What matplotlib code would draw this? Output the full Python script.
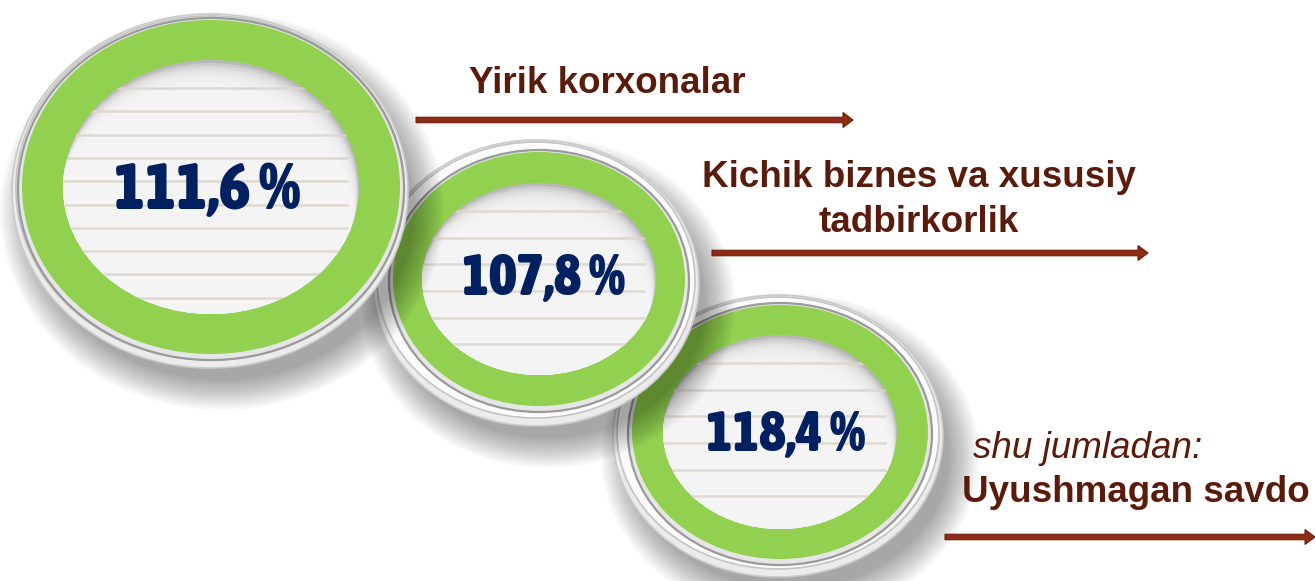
import numpy as np
import matplotlib
matplotlib.use("Agg")
import matplotlib.pyplot as plt
import matplotlib.font_manager as fm
from matplotlib.patches import Ellipse

# ---------------- data ----------------
values = [111.6, 107.8, 118.4]
categories = ["Yirik korxonalar", "Kichik biznes va xususiy\ntadbirkorlik", "Uyushmagan savdo"]
subtitle = "shu jumladan:"
value_labels = [f"{v:.1f}".replace(".", ",") + " %" for v in values]

# ---------------- find a condensed bold font (with the needed glyphs) ----------------
def _narrow_score(f):
    st = f.stretch
    if isinstance(st, str):
        st = {"ultra-condensed": 100, "extra-condensed": 200, "condensed": 300,
              "semi-condensed": 400, "normal": 500}.get(st, 500)
    if "Narrow" in f.name or "Condensed" in f.name:
        st = min(st, 350)
    return st

def _has_glyphs(fname, chars="0123456789,%"):
    try:
        ft = fm.get_font(fname)
        return all(ft.get_char_index(ord(c)) != 0 for c in chars)
    except Exception:
        return False

cands = []
for f in fm.fontManager.ttflist:
    sc = _narrow_score(f)
    w = f.weight if isinstance(f.weight, int) else {"bold": 700, "normal": 400}.get(f.weight, 400)
    if sc < 500 and w >= 600 and f.style == "normal" and _has_glyphs(f.fname):
        cands.append((sc, -w, f.fname))
cands.sort()
NARROW = fm.FontProperties(fname=cands[0][2]) if cands else None

# ---------------- layout (pixels) ----------------
W, H = 1315, 581
circles = [
    dict(c=(211, 187), g=(189, 167), i=(148, 127), rc=(210, 191), r=(198, 177), ls=23.3, ty=191, tx=207, h=56),
    dict(c=(539, 279), g=(146, 127), i=(117, 96), rc=(536, 283), r=(163, 143), ls=26.7, ty=279, tx=543, h=49),
    dict(c=(780, 432), g=(148, 127), i=(117, 97), rc=(778, 436), r=(165, 141), ls=26.7, ty=435, tx=786, h=48),
]
arrows = [((416, 120), 853), ((712, 253), 1148), ((945, 537), 1315)]
label_pos = [(607, 93), (919, 187), (962, 502)]
sub_pos = (973, 458)

GREEN = "#92D050"
NAVY = "#002060"
BROWN = "#5A1B0B"
ARROW = "#8E2B13"

fig = plt.figure(figsize=(W / 100, H / 100), dpi=100)
ax = fig.add_axes([0, 0, 1, 1])
ax.set_xlim(0, W)
ax.set_ylim(H, 0)
ax.axis("off")

z = 1
for k in [2, 1, 0]:
    p = circles[k]
    cx, cy = p["c"]
    rcx, rcy = p["rc"]
    rx, ry = p["r"]
    for s in np.linspace(30, 0, 16):
        ax.add_patch(Ellipse((rcx + 12, rcy + 20), 2 * (rx - 6 + s), 2 * (ry - 8 + s),
                             fc="black", ec="none", alpha=0.024, zorder=z))
    z += 1
    ax.add_patch(Ellipse((rcx, rcy), 2 * rx, 2 * ry, fc="#EBEBEB", ec="#CACACA", lw=1.2, zorder=z)); z += 1
    ax.add_patch(Ellipse((rcx, rcy - 3), 2 * (rx - 4), 2 * (ry - 5), fc="#FBFBFB", ec="#C4C4C4", lw=1.2, zorder=z)); z += 1
    gx, gy = p["g"]
    ax.add_patch(Ellipse((cx, cy + 2), 2 * (gx + 4), 2 * (gy + 4), fc="#E6E6E6", ec="#9A9A9A", lw=1.6, zorder=z)); z += 1
    ax.add_patch(Ellipse((cx, cy), 2 * gx, 2 * gy, fc=GREEN, ec="none", zorder=z)); z += 1
    ix, iy = p["i"]
    inner = Ellipse((cx, cy), 2 * ix, 2 * iy, fc="#B8B8B8", ec="none", zorder=z)
    ax.add_patch(inner); z += 1
    for d in np.linspace(38, 3, 14):
        e = Ellipse((cx - 0.25 * d, cy + d), 2 * ix, 2 * iy, fc="#F7F7F7", ec="none", alpha=0.3, zorder=z)
        ax.add_patch(e)
        e.set_clip_path(inner)
    z += 1
    ys = np.arange(cy - iy + 28, cy + iy - 8, p["ls"])
    for yy in ys:
        ln, = ax.plot([cx - ix - 5, cx + ix - 12], [yy, yy], color="#DDD5CC", lw=1.8, alpha=0.9, zorder=z)
        ln.set_clip_path(inner)
    z += 1

# value texts
for p, lab in zip(circles, value_labels):
    if NARROW is not None:
        fp = NARROW.copy()
        fp.set_size(p["h"] * 0.85)
        ax.text(p["tx"], p["ty"], lab, ha="center", va="center", color=NAVY,
                fontproperties=fp, zorder=z + 5)
    else:
        ax.text(p["tx"], p["ty"], lab, ha="center", va="center", fontsize=p["h"] * 0.68,
                fontweight="bold", color=NAVY,
                family=["Liberation Sans", "DejaVu Sans"], zorder=z + 5)

for (x0, y0), x1 in arrows:
    ax.arrow(x0, y0, x1 - x0, 0, width=5.5, head_width=15, head_length=10,
             length_includes_head=True, fc=ARROW, ec="#6E1E0C", lw=0.8, zorder=z + 5)

lab_font = dict(family=["Liberation Sans", "DejaVu Sans"], fontsize=26.5, color=BROWN)
for idx, (cat, (x, y)) in enumerate(zip(categories, label_pos)):
    for j, line in enumerate(cat.split("\n")):
        ax.text(x, y + 45 * j, line, ha="center" if idx < 2 else "left", va="baseline",
                fontweight="bold", zorder=z + 5, **lab_font)
ax.text(sub_pos[0], sub_pos[1], subtitle, ha="left", va="baseline", fontstyle="italic",
        zorder=z + 5, **lab_font)

fig.savefig("out.png", dpi=100)
